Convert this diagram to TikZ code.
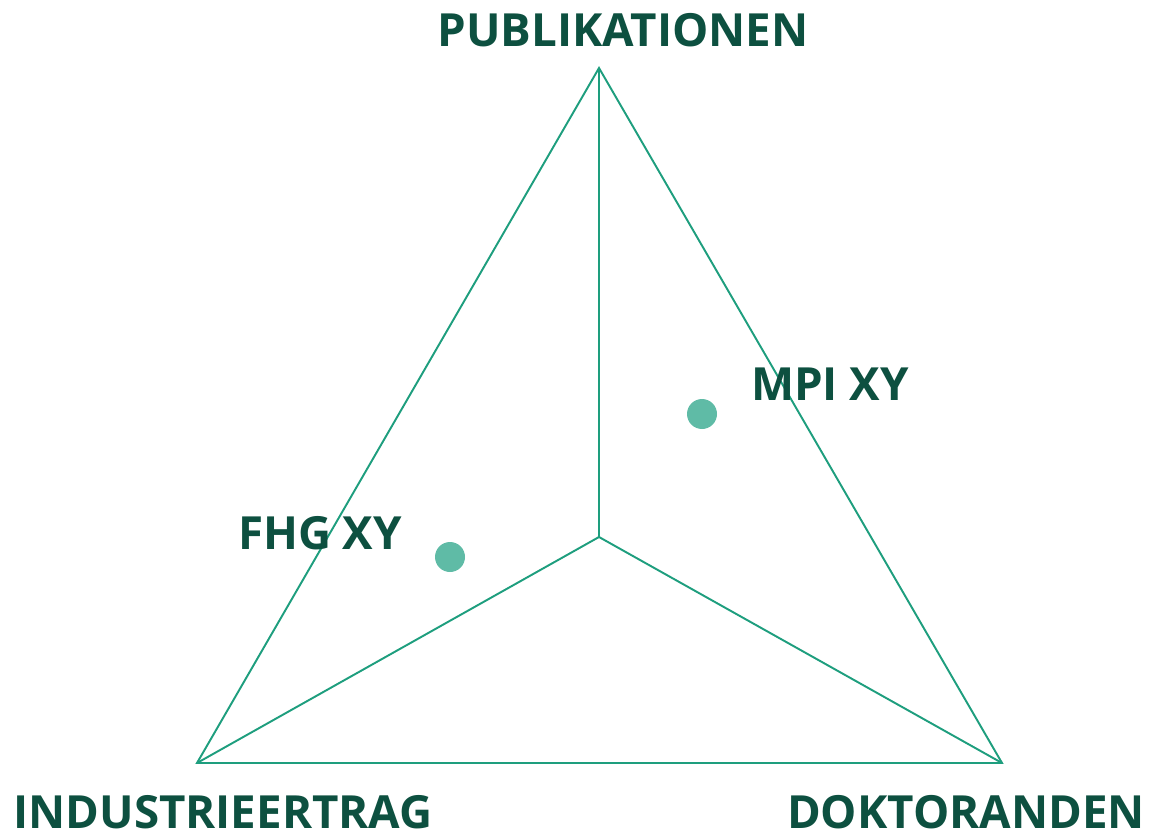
\documentclass[tikz,border=0pt]{standalone}
\usepackage{fontspec}
\setmainfont{Open Sans}
\usetikzlibrary{positioning}
\definecolor{linegreen}{HTML}{1E9E7E}
\definecolor{textgreen}{HTML}{0D5040}
\definecolor{dotgreen}{HTML}{5FBBA6}
\begin{document}
\begin{tikzpicture}[
            x = 0.02cm, % one pixel
            y = -0.02cm,
            line width = 1.1pt, % line style
            draw = linegreen,
        ]
\tikzstyle{axislabel}=[
            text = textgreen,
            font = \fontsize{26}{30}\selectfont\bfseries,
            inner sep = 0pt
        ]
\tikzstyle{dot}=[
            shape = circle,
            fill = dotgreen,
            inner sep = 0pt
        ]
\useasboundingbox (0,0) rectangle (1155,838);
\coordinate (pub) at (599,68);
\coordinate (ind) at (197,763);
\coordinate (dok) at (1002,763);
\coordinate (mid) at (599,537);
\draw[linegreen] (pub) -- (ind) -- (dok) -- cycle;
\draw[linegreen] (mid) -- (pub);
\draw[linegreen] (mid) -- (ind);
\draw[linegreen] (mid) -- (dok);
\node[axislabel](publab) at (623,30){PUBLIKATIONEN};
\node[axislabel](indlab) at (223,812){INDUSTRIEERTRAG};
\node[axislabel](doklab) at (966,812){DOKTORANDEN};
\node[dot, minimum size = 0.6cm](mpi) at (702,414){};
\node[dot, minimum size = 0.6cm](fhg) at (450,557){};
\node[axislabel](mpilab) at (830,384){MPI XY};
\node[axislabel](fhglab) at (320,533){FHG XY};
\end{tikzpicture}
\end{document}
